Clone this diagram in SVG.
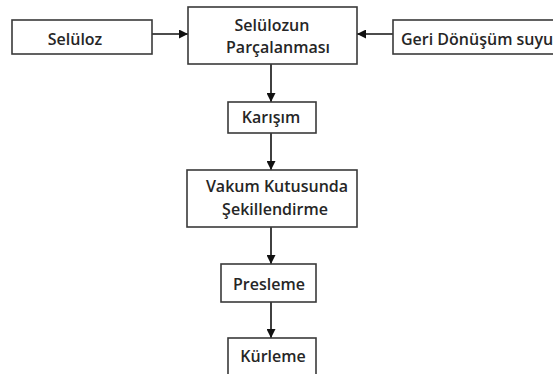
<svg xmlns="http://www.w3.org/2000/svg" width="553" height="374" viewBox="0 0 553 374">
<style>
.box{fill:#fff;stroke:#3a3a3a;stroke-width:1.6}
.t{font-family:"Open Sans","Liberation Sans",sans-serif;font-weight:600;font-size:16px;fill:#262626;text-anchor:middle}
.c{stroke:#111;stroke-width:1.6;fill:none;marker-end:url(#ah)}
</style>
<defs>
<marker id="ah" viewBox="0 0 10 10" refX="10" refY="5" markerWidth="9" markerHeight="9" markerUnits="userSpaceOnUse" orient="auto">
<path d="M0,0 L10,5 L0,10 z" fill="#111"/>
</marker>
</defs>
<rect width="553" height="374" fill="#fff"/>
<g id="connectors">
<line class="c" x1="152" y1="34" x2="188" y2="34"/>
<line class="c" x1="393" y1="34" x2="357" y2="34"/>
<line class="c" x1="271" y1="64" x2="271" y2="102"/>
<line class="c" x1="271" y1="133" x2="271" y2="170"/>
<line class="c" x1="271" y1="227" x2="271" y2="264"/>
<line class="c" x1="271" y1="302" x2="271" y2="338"/>
</g>
<g id="seluloz">
<rect class="box" x="12" y="20" width="140" height="34"/>
<text class="t" x="75" y="45">Selüloz</text>
</g>
<g id="parcalanma">
<rect class="box" x="188" y="7" width="169" height="57"/>
<text class="t" x="272" y="31">Selülozun</text>
<text class="t" x="278" y="53">Parçalanması</text>
</g>
<g id="geri">
<rect class="box" x="393" y="20" width="170" height="34"/>
<text class="t" x="401" y="45" style="text-anchor:start">Geri Dönüşüm suyu</text>
</g>
<g id="karisim">
<rect class="box" x="228" y="102" width="88" height="31"/>
<text class="t" x="271" y="123">Karışım</text>
</g>
<g id="vakum">
<rect class="box" x="187" y="170" width="170" height="57"/>
<text class="t" x="277" y="192">Vakum Kutusunda</text>
<text class="t" x="275" y="215">Şekillendirme</text>
</g>
<g id="presleme">
<rect class="box" x="221" y="264" width="95" height="38"/>
<text class="t" x="269" y="290">Presleme</text>
</g>
<g id="kurleme">
<rect class="box" x="228" y="338" width="88" height="45"/>
<text class="t" x="273" y="362">Kürleme</text>
</g>
</svg>
